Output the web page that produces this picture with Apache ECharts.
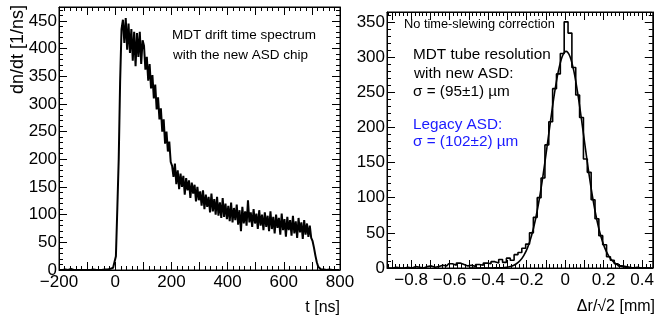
<!DOCTYPE html>
<html><head><meta charset="utf-8">
<script src="https://cdn.jsdelivr.net/npm/echarts@6/dist/echarts.min.js"></script>
<style>html,body{margin:0;padding:0;background:#fff}#c{width:657px;height:320px}</style>
</head><body><div id="c"></div>
<script>
// ---- left panel: MDT drift time spectrum (5 ns bins starting at -200 ns)
const driftBinStart = -200;
const driftBinWidth = 5;
const driftCounts = [
  0,1,0,0,1,0,0,0,2,0,0,1,0,0,0,1,0,0,0,2,
  0,1,0,0,1,0,0,2,0,1,0,2,1,0,1,0,2,3,4,5,
  25,110,200,340,435,452,410,455,398,445,392,435,378,430,368,428,385,430,372,415,
  405,362,385,342,372,328,352,310,335,290,312,272,292,250,272,228,250,214,232,195,
  188,168,192,155,180,146,174,150,170,136,166,144,162,130,158,138,154,124,150,126,
  142,116,144,110,136,114,132,104,138,106,128,100,132,98,122,94,130,96,120,92,
  116,88,122,86,112,90,118,82,108,70,114,84,106,80,126,86,104,78,110,84,
  102,74,108,80,100,72,104,78,98,70,106,74,96,66,100,76,94,64,102,72,
  92,60,96,72,90,62,98,66,88,58,94,68,86,56,90,64,84,60,80,58,
  52,40,26,14,6,3,1,0,1,0,0,0,1,0,0,0,0,1,0,0
];
// ---- right panel: resolution histogram (0.02 mm bins starting at -0.925 mm)
const resBinStart = -0.925;
const resBinWidth = 0.02;
const resCounts = [
  0,0,1,0,0,1,0,2,1,0,
  2,3,1,2,4,3,6,4,7,5,
  3,4,2,5,4,7,6,9,7,12,
  8,14,11,19,22,28,34,50,72,100,
  128,175,208,255,276,305,350,334,285,246,
  214,155,136,97,70,46,33,16,11,6,
  3,2,1,0,1,0,0,0,0
];
// Gaussian fit curve
const fitX = [-0.5,-0.45,-0.4,-0.375,-0.355,-0.335,-0.315,-0.295,-0.275,-0.255,-0.235,-0.215,-0.195,-0.175,-0.155,-0.135,-0.115,-0.095,-0.075,-0.055,-0.035,-0.015,0.005,0.025,0.045,0.065,0.085,0.105,0.125,0.145,0.165,0.185,0.205,0.225,0.245,0.265,0.285,0.305,0.325,0.345,0.365,0.4,0.455];
const fitY = [0,0,0.05,0.1,0.2,0.33,0.73,1.5,3.0,5.7,10.2,17.7,29.0,45.4,67.9,96.7,131.5,170.6,211,249,280.2,300.8,308,300.8,280.2,249,211,170.6,131.5,96.7,67.9,45.4,29.0,17.7,10.2,5.7,3.0,1.5,0.7,0.3,0.1,0.02,0];

const driftTitle = ['MDT drift time spectrum','with the new ASD chip'];
const resTexts = ['No time-slewing correction','MDT tube resolution','with new ASD:','σ = (95±1) µm','Legacy ASD:','σ = (102±2) µm'];

const FONT = '"Liberation Sans", Arial, sans-serif';
const driftData = driftCounts.map((v,i)=>[driftBinStart + driftBinWidth*(i+0.5), v]);
const resData = resCounts.map((v,i)=>[+(resBinStart + resBinWidth*(i+0.5)).toFixed(4), v]);
const fitData = fitX.map((x,i)=>[x, fitY[i]]);

const minus = s => String(s).replace('-', '\u2212');
function axisCommon(extra){
  return Object.assign({
    type:'value', splitLine:{show:false},
    axisLine:{show:true, onZero:false, lineStyle:{color:'#000', width:1}},
    axisTick:{show:true, inside:true, length:8, lineStyle:{color:'#000'}},
    minorTick:{show:true, splitNumber:5, length:4, lineStyle:{color:'#000'}},
    axisLabel:{show:true, color:'#000', fontSize:17, fontFamily:FONT}
  }, extra);
}
const option = {
  animation:false,
  backgroundColor:'#fff',
  grid:[
    {left:59, top:7, width:281, height:263, show:true, borderColor:'#000', borderWidth:1, backgroundColor:'transparent'},
    {left:387, top:12, width:268, height:256, show:true, borderColor:'#000', borderWidth:1, backgroundColor:'transparent'}
  ],
  xAxis:[
    axisCommon({gridIndex:0, position:'bottom', min:-200, max:800, interval:100,
      axisLabel:{color:'#000', fontSize:17, fontFamily:FONT, margin:4,
        formatter:v=> (Math.round(v)%200===0 ? minus(v) : '')}}),
    axisCommon({gridIndex:0, position:'top', min:-200, max:800, interval:100, axisLabel:{show:false}}),
    axisCommon({gridIndex:1, position:'bottom', min:-0.925, max:0.455, splitNumber:14,
      axisLabel:{color:'#000', fontSize:17, fontFamily:FONT, margin:4, showMinLabel:false, showMaxLabel:false,
        formatter:v=>{const k=Math.round(v*10); return (k%2===0) ? minus(+(k/10).toFixed(1)) : '';}}}),
    axisCommon({gridIndex:1, position:'top', min:-0.925, max:0.455, splitNumber:14, axisLabel:{show:false}})
  ],
  yAxis:[
    axisCommon({gridIndex:0, position:'left', min:0, max:475, interval:50,
      axisLabel:{color:'#000', fontSize:17, fontFamily:FONT, margin:2, showMaxLabel:false}}),
    axisCommon({gridIndex:0, position:'right', min:0, max:475, interval:50, axisLabel:{show:false}}),
    axisCommon({gridIndex:1, position:'left', min:0, max:364, interval:50,
      axisLabel:{color:'#000', fontSize:17, fontFamily:FONT, margin:2, showMaxLabel:false}}),
    axisCommon({gridIndex:1, position:'right', min:0, max:364, interval:50, axisLabel:{show:false}})
  ],
  series:[
    {type:'line', xAxisIndex:0, yAxisIndex:0, data:driftData, symbol:'none',
      lineStyle:{color:'#000', width:2}, clip:true},
    {type:'line', xAxisIndex:2, yAxisIndex:2, data:resData, step:'middle', symbol:'none',
      lineStyle:{color:'#000', width:1.6}, clip:true},
    {type:'line', xAxisIndex:2, yAxisIndex:2, data:fitData, smooth:0.3, symbol:'none',
      lineStyle:{color:'#000', width:1.6}, clip:true}
  ],
  graphic:[
    {type:'text', x:18, y:5, rotation:Math.PI/2, style:{text:'dn/dt [1/ns]', font:'18px '+FONT, fill:'#000', align:'right', verticalAlign:'middle'}},
    {type:'text', x:340, y:308, style:{text:'t [ns]', font:'16px '+FONT, fill:'#000', align:'right', verticalAlign:'middle'}},
    {type:'text', x:655, y:307, style:{text:'\u0394r/\u221A2 [mm]', font:'16px '+FONT, fill:'#000', align:'right', verticalAlign:'middle'}},
    {type:'text', x:172, y:35, style:{text:driftTitle[0], font:'13.5px '+FONT, fill:'#000', align:'left', verticalAlign:'middle'}},
    {type:'text', x:173, y:55, style:{text:driftTitle[1], font:'13.5px '+FONT, fill:'#000', align:'left', verticalAlign:'middle'}},
    {type:'text', x:404, y:24, style:{text:resTexts[0], font:'12.8px '+FONT, fill:'#000', align:'left', verticalAlign:'middle'}},
    {type:'text', x:413, y:55, style:{text:resTexts[1], font:'15.3px '+FONT, fill:'#000', align:'left', verticalAlign:'middle'}},
    {type:'text', x:414, y:74, style:{text:resTexts[2], font:'15.3px '+FONT, fill:'#000', align:'left', verticalAlign:'middle'}},
    {type:'text', x:413, y:92, style:{text:resTexts[3], font:'15.3px '+FONT, fill:'#000', align:'left', verticalAlign:'middle'}},
    {type:'text', x:413, y:125, style:{text:resTexts[4], font:'15.3px '+FONT, fill:'#1a1aff', align:'left', verticalAlign:'middle'}},
    {type:'text', x:413, y:142, style:{text:resTexts[5], font:'15.3px '+FONT, fill:'#1a1aff', align:'left', verticalAlign:'middle'}}
  ]
};
const chart = echarts.init(document.getElementById('c'), null, {renderer:'canvas'});
chart.setOption(option);
</script></body></html>
